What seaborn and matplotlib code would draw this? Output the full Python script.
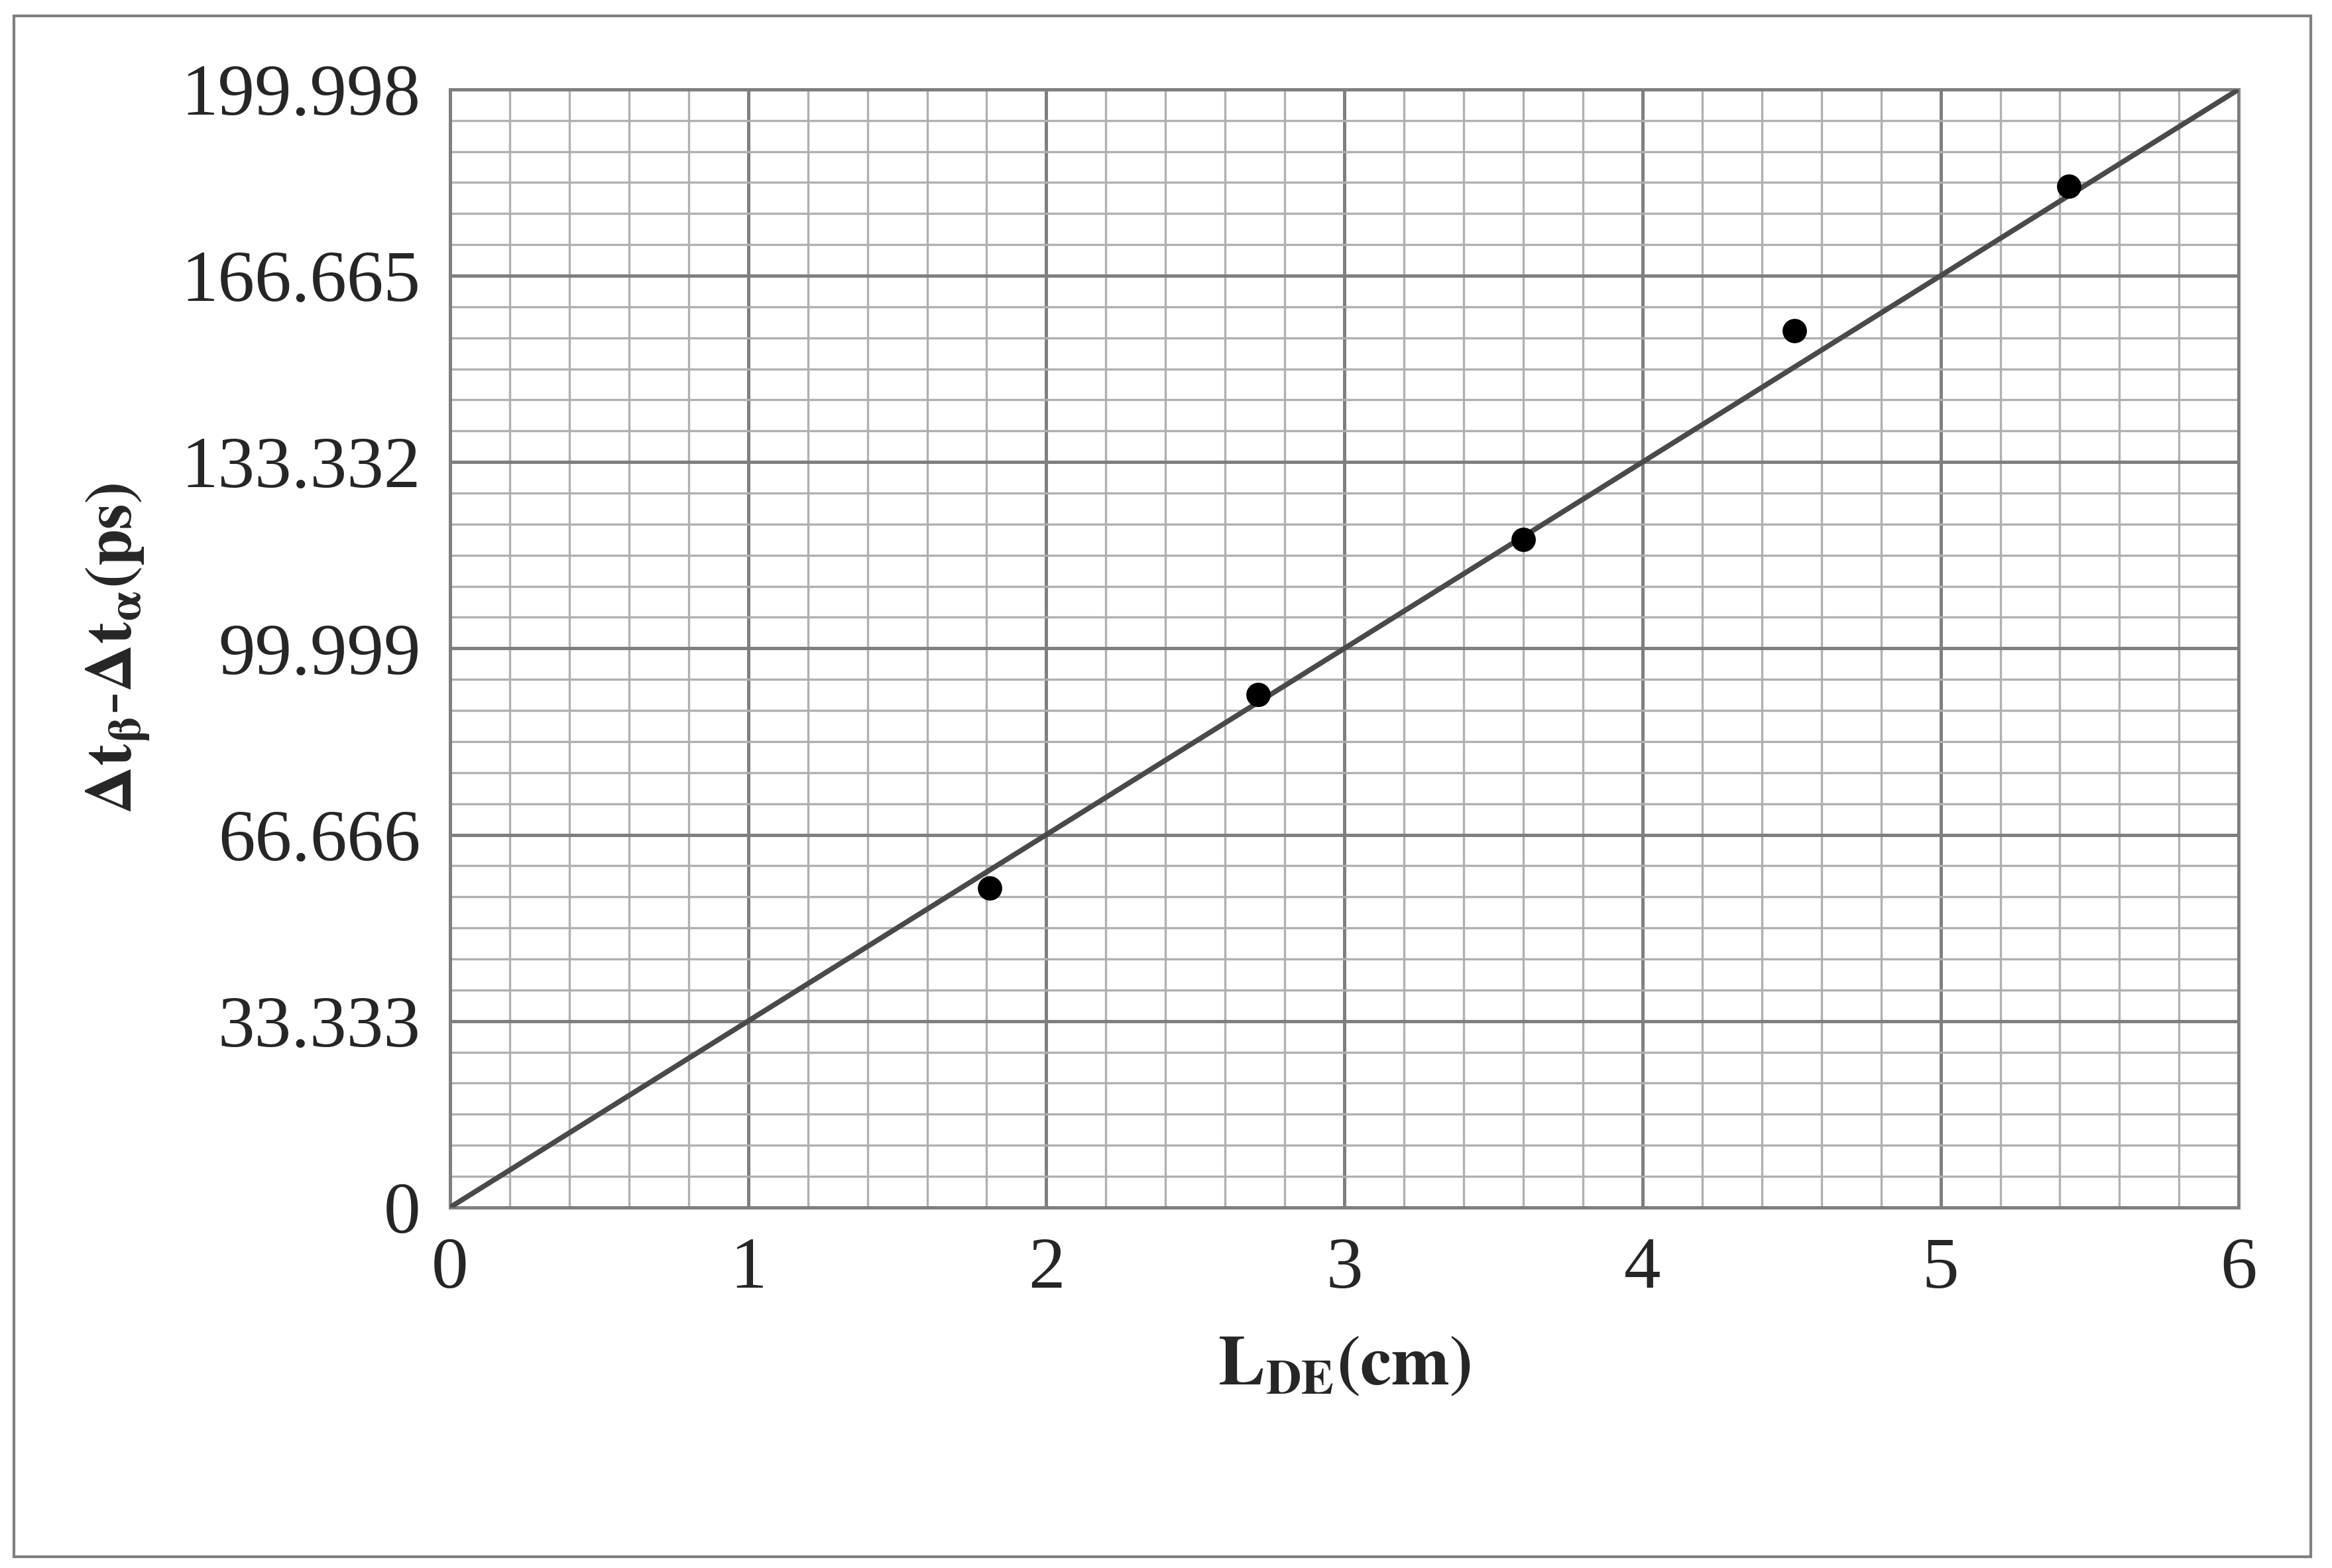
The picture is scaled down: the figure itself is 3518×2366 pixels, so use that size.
import matplotlib
matplotlib.use("Agg")
import matplotlib.pyplot as plt
import seaborn as sns
import numpy as np
import pandas as pd
from matplotlib.ticker import MultipleLocator, FixedLocator
from matplotlib.patches import Rectangle

x_vals = [1.81, 2.71, 3.60, 4.51, 5.43]
y_vals = [57.1, 91.7, 119.5, 156.8, 182.7]
fit_x = [0, 6]
fit_y = [0, 199.998]
yticks = [0, 33.333, 66.666, 99.999, 133.332, 166.665, 199.998]
ytick_labels = ["0", "33.333", "66.666", "99.999", "133.332", "166.665", "199.998"]

sns.set_style("white")
plt.rcParams['font.family'] = ['Liberation Serif', 'DejaVu Serif']
plt.rcParams['mathtext.fontset'] = 'stix'

fig = plt.figure(figsize=(17.59, 11.83), dpi=200)
ax = fig.add_axes([0.193, 0.230, 0.767, 0.713])

df = pd.DataFrame({"x": x_vals, "y": y_vals})
sns.lineplot(x=fit_x, y=fit_y, ax=ax, color="#4a4a4a", lw=2.8, zorder=3)
sns.scatterplot(data=df, x="x", y="y", ax=ax, color="black", s=150, edgecolor="black", zorder=4)

ax.set_xlim(0, 6)
ax.set_ylim(0, 199.998)
ax.xaxis.set_major_locator(MultipleLocator(1))
ax.xaxis.set_minor_locator(MultipleLocator(0.2))
ax.yaxis.set_major_locator(FixedLocator(yticks))
ax.yaxis.set_minor_locator(FixedLocator(list(np.arange(0, 200.0, 33.333 / 6))))
ax.set_yticklabels(ytick_labels)
ax.grid(which="major", color="#7f7f7f", lw=1.8)
ax.grid(which="minor", color="#b0b0b0", lw=1.2)
ax.set_axisbelow(True)
for s in ax.spines.values():
    s.set_color("#7f7f7f")
    s.set_linewidth(1.8)
ax.tick_params(which="both", length=0, labelsize=40, pad=16)

ax.set_xlabel(r"$\mathbf{L_{DE}(cm)}$", fontsize=38, labelpad=18)
ax.set_ylabel(r"$\mathbf{\Delta t_{\beta}}$-$\mathbf{\Delta t_{\alpha}(ps)}$", fontsize=36, labelpad=16)

fig.patches.append(Rectangle((0.006, 0.007), 0.985, 0.983, transform=fig.transFigure,
                             fill=False, edgecolor="#7f7f7f", lw=1.5))
fig.savefig("out.png", dpi=200)
